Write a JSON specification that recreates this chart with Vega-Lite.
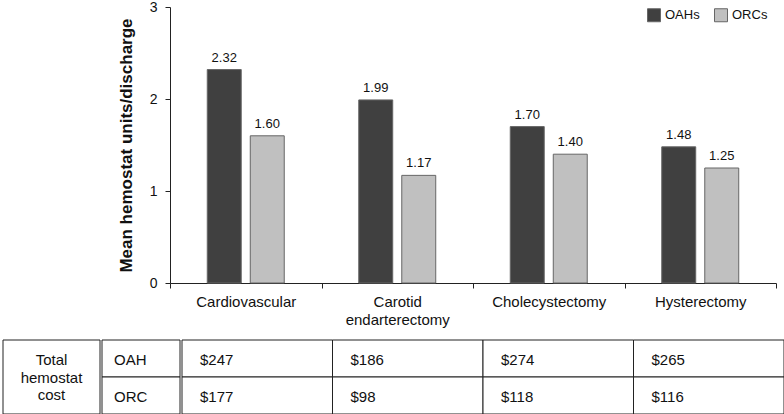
{
  "$schema": "https://vega.github.io/schema/vega-lite/v6.json",
  "padding": {"left": 2, "top": 0, "right": 2, "bottom": 0},
  "background": "white",
  "config": {
    "font": "Liberation Sans",
    "view": {"stroke": null},
    "axis": {"labelColor": "#111", "titleColor": "#111", "domainColor": "#222", "tickColor": "#222", "grid": false}
  },
  "resolve": {"legend": {"color": "independent"}, "scale": {"x": "independent", "y": "independent"}},
  "datasets": {
    "bars": [
      {"procedure": "Cardiovascular", "group": "OAHs", "value": 2.32},
      {"procedure": "Cardiovascular", "group": "ORCs", "value": 1.60},
      {"procedure": "Carotid endarterectomy", "group": "OAHs", "value": 1.99},
      {"procedure": "Carotid endarterectomy", "group": "ORCs", "value": 1.17},
      {"procedure": "Cholecystectomy", "group": "OAHs", "value": 1.70},
      {"procedure": "Cholecystectomy", "group": "ORCs", "value": 1.40},
      {"procedure": "Hysterectomy", "group": "OAHs", "value": 1.48},
      {"procedure": "Hysterectomy", "group": "ORCs", "value": 1.25}
    ],
    "costs": [
      {"procedure": "Cardiovascular", "row": "OAH", "cost": "$247"},
      {"procedure": "Cardiovascular", "row": "ORC", "cost": "$177"},
      {"procedure": "Carotid endarterectomy", "row": "OAH", "cost": "$186"},
      {"procedure": "Carotid endarterectomy", "row": "ORC", "cost": "$98"},
      {"procedure": "Cholecystectomy", "row": "OAH", "cost": "$274"},
      {"procedure": "Cholecystectomy", "row": "ORC", "cost": "$118"},
      {"procedure": "Hysterectomy", "row": "OAH", "cost": "$265"},
      {"procedure": "Hysterectomy", "row": "ORC", "cost": "$116"}
    ],
    "rows": [
      {"row": "OAH", "col": "series"},
      {"row": "ORC", "col": "series"}
    ],
    "header": [
      {"label": "Total\nhemostat\ncost", "col": "label"}
    ]
  },
  "vconcat": [
    {
      "hconcat": [
        {"width": 167, "height": 10, "data": {"values": []}, "mark": "point"},
        {
          "width": 606,
          "height": 276,
          "data": {"name": "bars"},
          "encoding": {
            "x": {
              "field": "procedure", "type": "nominal",
              "sort": ["Cardiovascular", "Carotid endarterectomy", "Cholecystectomy", "Hysterectomy"],
              "scale": {"paddingInner": 0, "paddingOuter": 0},
              "axis": {
                "title": null, "labelAngle": 0, "labelFontSize": 15, "labelPadding": 6,
                "tickBand": "extent", "tickSize": 5, "labelExpr": "split(datum.label, ' ')",
                "labelLineHeight": 18
              }
            },
            "xOffset": {
              "field": "group", "type": "nominal",
              "scale": {"paddingInner": 0.21, "paddingOuter": 0.866}
            },
            "y": {
              "field": "value", "type": "quantitative",
              "scale": {"domain": [0, 3], "nice": false},
              "axis": {
                "values": [0, 1, 2, 3], "title": "Mean hemostat units/discharge",
                "titleFontSize": 17, "titleFontWeight": "bold", "titlePadding": 14,
                "labelFontSize": 14, "tickSize": 5, "labelPadding": 8
              }
            }
          },
          "layer": [
            {
              "mark": {"type": "bar", "stroke": "#666", "strokeWidth": 1},
              "encoding": {
                "color": {
                  "field": "group", "type": "nominal",
                  "scale": {"domain": ["OAHs", "ORCs"], "range": ["#404040", "#c0c0c0"]},
                  "legend": {
                    "title": null, "orient": "none", "legendX": 477, "legendY": 1, "direction": "horizontal",
                    "symbolType": "square", "symbolSize": 169, "symbolStrokeColor": "#666",
                    "symbolStrokeWidth": 1, "labelFontSize": 13, "labelColor": "#111",
                    "labelOffset": 4, "columnPadding": 12
                  }
                }
              }
            },
            {
              "mark": {"type": "text", "dy": -8, "baseline": "alphabetic", "fontSize": 13, "color": "#111"},
              "encoding": {
                "text": {"field": "value", "type": "quantitative", "format": ".2f"}
              }
            }
          ]
        }
      ],
      "spacing": 0,
      "bounds": "flush",
      "resolve": {"legend": {"color": "independent"}, "scale": {"x": "independent", "y": "independent"}}
    },
    {
      "hconcat": [
        {
          "width": 97,
          "height": 74,
          "data": {"name": "header"},
          "encoding": {
            "x": {"field": "col", "type": "nominal", "axis": null, "scale": {"paddingInner": 0, "paddingOuter": 0}},
            "y": {"field": "col", "type": "nominal", "axis": null, "scale": {"paddingInner": 0, "paddingOuter": 0}}
          },
          "layer": [
            {"mark": {"type": "rect", "fill": "white", "stroke": "#222", "strokeWidth": 1}},
            {
              "mark": {"type": "text", "lineBreak": "\n", "fontSize": 15, "lineHeight": 17.5, "align": "center", "baseline": "middle", "dy": -17, "color": "#111"},
              "encoding": {"text": {"field": "label", "type": "nominal"}}
            }
          ]
        },
        {
          "width": 78,
          "height": 74,
          "data": {"name": "rows"},
          "encoding": {
            "y": {"field": "row", "type": "nominal", "axis": null, "sort": ["OAH", "ORC"], "scale": {"paddingInner": 0, "paddingOuter": 0}}
          },
          "layer": [
            {
              "mark": {"type": "rect", "fill": "white", "stroke": "#222", "strokeWidth": 1},
              "encoding": {"x": {"field": "col", "type": "nominal", "axis": null, "scale": {"paddingInner": 0, "paddingOuter": 0}}}
            },
            {
              "mark": {"type": "text", "fontSize": 15, "align": "left", "baseline": "middle", "dx": 12, "dy": 1, "color": "#111"},
              "encoding": {
                "x": {"field": "col", "type": "nominal", "axis": null, "bandPosition": 0},
                "text": {"field": "row", "type": "nominal"}
              }
            }
          ]
        },
        {
          "width": 602,
          "height": 74,
          "data": {"name": "costs"},
          "encoding": {
            "y": {"field": "row", "type": "nominal", "axis": null, "sort": ["OAH", "ORC"], "scale": {"paddingInner": 0, "paddingOuter": 0}}
          },
          "layer": [
            {
              "mark": {"type": "rect", "fill": "white", "stroke": "#222", "strokeWidth": 1},
              "encoding": {
                "x": {"field": "procedure", "type": "nominal", "axis": null,
                  "sort": ["Cardiovascular", "Carotid endarterectomy", "Cholecystectomy", "Hysterectomy"],
                  "scale": {"paddingInner": 0, "paddingOuter": 0}}
              }
            },
            {
              "mark": {"type": "text", "fontSize": 15, "align": "left", "baseline": "middle", "dx": 18, "dy": 1, "color": "#111"},
              "encoding": {
                "x": {"field": "procedure", "type": "nominal", "axis": null, "bandPosition": 0,
                  "sort": ["Cardiovascular", "Carotid endarterectomy", "Cholecystectomy", "Hysterectomy"]},
                "text": {"field": "cost", "type": "nominal"}
              }
            }
          ]
        }
      ],
      "spacing": 0,
      "resolve": {"scale": {"x": "independent", "y": "independent"}}
    }
  ],
  "spacing": 12
}
